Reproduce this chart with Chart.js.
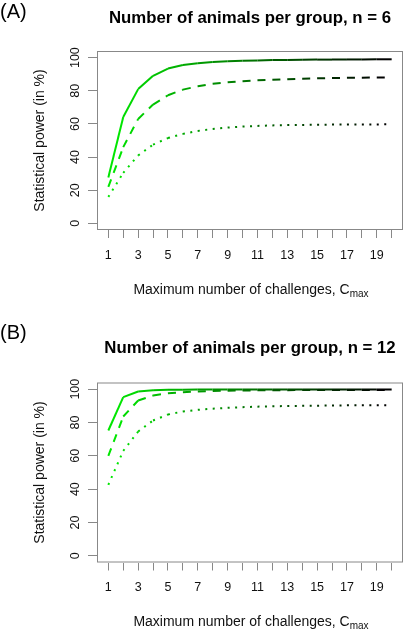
<!DOCTYPE html>
<html><head><meta charset="utf-8">
<script src="https://cdn.jsdelivr.net/npm/chart.js@4.4.0/dist/chart.umd.min.js"></script>
<style>
html,body{margin:0;padding:0;background:#fff;overflow:hidden;width:404px;height:629px}
.panel{position:absolute;left:0;width:404px}
#pa{top:0;height:320px}
#pb{top:320px;height:309px}
</style></head><body>
<div class="panel" id="pa"><canvas id="ca" width="404" height="320"></canvas></div>
<div class="panel" id="pb"><canvas id="cb" width="404" height="309"></canvas></div>
<script>
// ---- data ----
const challenges = [1,2,3,4,5,6,7,8,9,10,11,12,13,14,15,16,17,18,19,20];
const xTickValues = [1,2,3,4,5,6,7,8,9,10,11,12,13,14,15,16,17,18,19,20];
const yTickValues = [0,10,20,30,40,50,60,70,80,90,100];

const titleA = "Number of animals per group, n = 6";
const titleB = "Number of animals per group, n = 12";

// n = 6
const powerA_solid  = [27.7,64.2,81.0,89.0,93.4,95.5,96.6,97.3,97.8,98.1,98.3,98.5,98.6,98.7,98.8,98.8,98.9,98.9,99.0,99.0];
const powerA_dashed = [22.0,46.0,63.0,71.7,77.3,80.7,82.7,84.2,85.1,85.8,86.3,86.7,87.0,87.3,87.5,87.7,87.8,87.9,88.0,88.1];
const powerA_dotted = [16.0,30.5,41.0,47.5,51.5,54.0,55.8,57.0,57.8,58.4,58.8,59.1,59.3,59.4,59.5,59.6,59.6,59.7,59.7,59.8];
// n = 12
const powerB_solid  = [75.2,95.2,98.6,99.4,99.6,99.7,99.8,99.8,99.8,99.8,99.8,99.8,99.8,99.8,99.8,99.8,99.8,99.8,99.8,99.8];
const powerB_dashed = [60.0,83.6,93.2,96.2,97.6,98.2,98.6,98.9,99.1,99.2,99.3,99.4,99.4,99.5,99.5,99.5,99.5,99.5,99.5,99.5];
const powerB_dotted = [42.6,63.0,74.6,81.2,84.8,86.6,87.6,88.3,88.8,89.2,89.5,89.7,89.9,90.0,90.1,90.2,90.3,90.3,90.4,90.4];

// ---- styling ----
const FONT = '"Liberation Sans", Arial, Helvetica, sans-serif';
Chart.defaults.font.family = FONT;
Chart.defaults.color = '#111';

function ramp(t){ // green -> black
  const g = Math.round(230 * (1 - t));
  return 'rgb(0,' + g + ',0)';
}
function makeDataset(vals, dash){
  const n = vals.length;
  return {
    data: challenges.map((c,i)=>({x:c, y:vals[i]})),
    borderWidth: 2,
    borderDash: dash,
    borderCapStyle: 'butt',
    pointRadius: 0,
    tension: 0,
    fill: false,
    borderColor: ramp(0),
    segment: { borderColor: ctx => ramp(ctx.p0DataIndex / (n - 2)) }
  };
}

function panelPlugin(p){
  return {
    id: 'panelDecor',
    afterDraw(chart){
      const ctx = chart.ctx, a = chart.chartArea;
      ctx.save();
      // box
      ctx.strokeStyle = '#888'; ctx.lineWidth = 1;
      ctx.strokeRect(a.left + 0.5, a.top + 0.5, a.right - a.left - 1, a.bottom - a.top - 1);
      const cx = (a.left + a.right) / 2;
      // title
      ctx.fillStyle = '#000';
      ctx.textBaseline = 'alphabetic';
      ctx.textAlign = 'center';
      ctx.font = 'bold 16.8px ' + FONT;
      ctx.fillText(p.title, cx, p.titleY);
      // panel label
      ctx.textAlign = 'left';
      ctx.font = '20px ' + FONT;
      ctx.fillText(p.label, 0, p.labelY);
      // x-axis title with subscript
      const main = 'Maximum number of challenges, C', sub = 'max';
      ctx.font = '14px ' + FONT; const w1 = ctx.measureText(main).width;
      ctx.font = '10px ' + FONT; const w2 = ctx.measureText(sub).width;
      const x0 = cx + 1 - (w1 + w2) / 2;
      ctx.fillStyle = '#111';
      ctx.font = '14px ' + FONT; ctx.fillText(main, x0, p.xTitleY);
      ctx.font = '10px ' + FONT; ctx.fillText(sub, x0 + w1, p.xTitleY + 3);
      ctx.restore();
    }
  };
}

function makeChart(id, series, p){
  return new Chart(document.getElementById(id), {
    type: 'line',
    data: { datasets: [
      makeDataset(series[0], []),
      makeDataset(series[1], [8,7]),
      makeDataset(series[2], [2,5.5])
    ]},
    options: {
      responsive: false,
      animation: false,
      devicePixelRatio: 1,
      layout: { padding: { top: p.top, right: 1, left: 0, bottom: 0 } },
      plugins: { legend: {display:false}, tooltip: {enabled:false}, title: {display:false} },
      scales: {
        x: {
          type: 'linear', min: 0.24, max: 20.76,
          afterBuildTicks: s => { s.ticks = xTickValues.map(v => ({value: v})); },
          afterFit: s => { s.height = p.xh; },
          border: { display: false },
          grid: { drawOnChartArea: false, drawTicks: true, tickLength: 8, color: '#888', lineWidth: 1 },
          ticks: { autoSkip: false, maxRotation: 0, minRotation: 0, padding: 10,
                   font: { size: 12.5 }, color: '#111',
                   callback: v => (v % 2 === 1 ? String(v) : '') }
        },
        y: {
          type: 'linear', min: -4, max: 104,
          afterBuildTicks: s => { s.ticks = yTickValues.map(v => ({value: v})); },
          afterFit: s => { s.width = 97; },
          border: { display: false },
          grid: { drawOnChartArea: false, drawTicks: true, tickLength: 9, color: '#888', lineWidth: 1 },
          ticks: { minRotation: 90, maxRotation: 90, crossAlign: 'center', padding: 2,
                   font: { size: 12.5 }, color: '#111',
                   callback: v => (v % 20 === 0 ? String(v) : '') },
          title: { display: true, text: 'Statistical power (in %)', font: { size: 14 },
                   color: '#111', padding: { top: 31.6, bottom: 0 } }
        }
      }
    },
    plugins: [panelPlugin(p)]
  });
}

makeChart('ca', [powerA_solid, powerA_dashed, powerA_dotted],
  { top: 51, xh: 90, title: titleA, titleY: 22.7, label: '(A)', labelY: 17.5, xTitleY: 294.3 });
makeChart('cb', [powerB_solid, powerB_dashed, powerB_dotted],
  { top: 62.5, xh: 66.5, title: titleB, titleY: 33.3, label: '(B)', labelY: 19.1, xTitleY: 305.7 });
</script>
</body></html>
